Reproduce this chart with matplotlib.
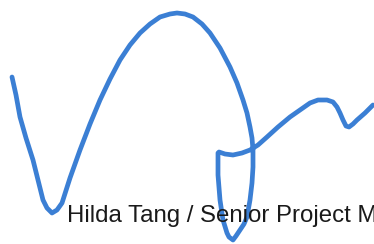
import matplotlib
matplotlib.use('Agg')
from matplotlib import pyplot as plt

# signature stroke, traced in image pixels (x right, y down)
STROKE_X = [12, 16, 20, 26, 33, 38, 43, 47, 52, 57, 62, 70, 80, 90, 100, 110, 120, 130,
            140, 150, 160, 170, 177, 185, 193, 202, 210, 220, 230, 237, 243, 247, 250,
            252, 253, 253, 252, 250, 247, 244, 240, 236, 233, 229, 227, 223, 220, 218,
            218, 219, 225, 233, 242, 250, 258, 267, 278, 290, 300, 310, 318, 327, 333,
            337, 340, 343, 346, 349, 353, 357, 365, 373]
STROKE_Y = [77, 95, 117, 138, 160, 180, 200, 208, 213, 210, 203, 178, 150, 124, 100, 79,
            60, 45, 33, 24, 17, 14, 13, 14, 17, 24, 33, 48, 67, 83, 100, 113, 127,
            138, 150, 167, 183, 200, 217, 224, 230, 236, 240, 237, 233, 220, 200, 175,
            153, 152, 154, 155, 153, 150, 145, 137, 127, 117, 110, 103, 100, 100, 102,
            107, 113, 120, 126, 127, 124, 120, 113, 105]

# caption is cut off by the right edge in the original scan
CAPTION = 'Hilda Tang / Senior Project M'

fig = plt.figure(figsize=(3.74, 2.44), dpi=100)
ax = fig.add_axes([0, 0, 1, 1])
ax.set_xlim(0, 374)
ax.set_ylim(244, 0)
ax.axis('off')

ax.text(67, 222, CAPTION, fontsize=17.3, family='Liberation Sans', color='#1a1a1a',
        va='baseline', ha='left', clip_on=True)
ax.plot(STROKE_X, STROKE_Y, color='#3b7fd4', lw=3.4, solid_capstyle='round',
        solid_joinstyle='round')

fig.savefig('out.png', dpi=100)
